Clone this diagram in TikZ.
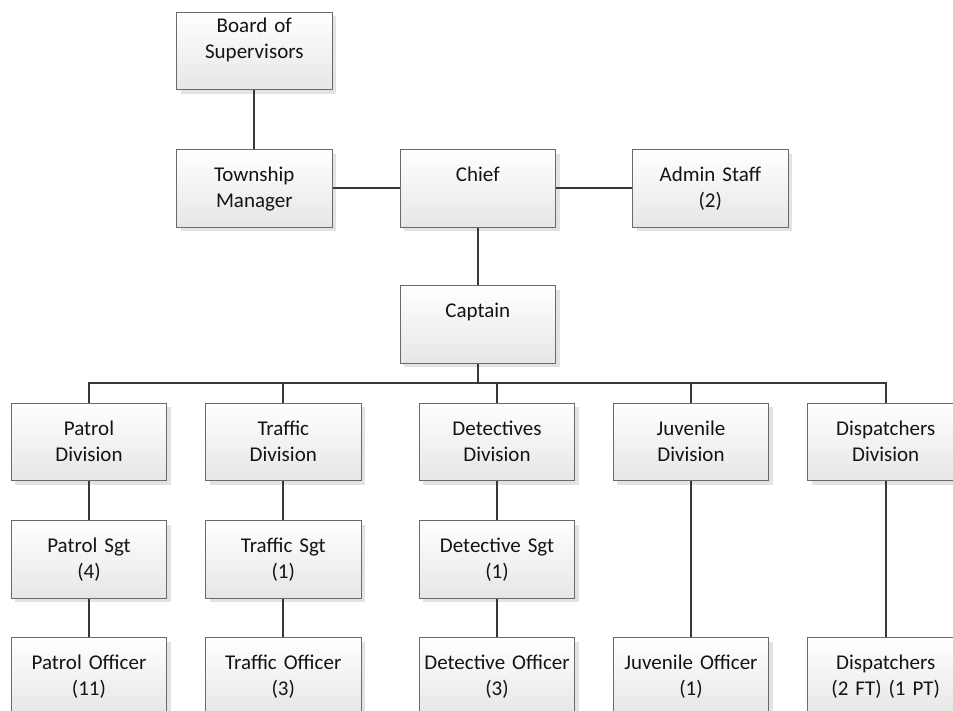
\documentclass[tikz,border=0pt]{standalone}
\usepackage{fontspec}
\setmainfont{Carlito}
\usetikzlibrary{shadows,calc}
\definecolor{ink}{HTML}{141414}
\definecolor{frame}{HTML}{6A6A6A}
\definecolor{wire}{HTML}{383838}
\definecolor{shade}{HTML}{E6E6E6}

\begin{document}
\begin{tikzpicture}[x=1pt, y=-1pt,
    orgbox/.style={draw=frame, line width=1pt, top color=white, bottom color=shade,
      minimum width=155.5pt, minimum height=77.5pt, inner xsep=0pt, inner ysep=0pt,
      text width=155.5pt, align=center, text height=32pt, text depth=45.5pt,
      font=\fontsize{21}{26}\selectfont, text=ink,
      drop shadow={shadow xshift=4pt, shadow yshift=-4pt, fill=black!11, opacity=1}},
    link/.style={draw=wire, line width=2pt}]
  \useasboundingbox (0,0) rectangle (953,711);
  \clip (0,0) rectangle (953,711);

  % top of the chart
  \node[orgbox, text height=20.5pt, text depth=57pt] (board) at (254.3,51) {Board of\\Supervisors};
  \node[orgbox] (manager) at (254.3,188.3) {Township\\Manager};
  \node[orgbox] (chief)   at (477.8,188.3) {Chief};
  \node[orgbox] (admin)   at (710.3,188.3) {Admin Staff\\(2)};
  \node[orgbox] (captain) at (477.8,324.7) {Captain};

  % divisions
  \node[orgbox] (patrol)  at (89,442)    {Patrol\\Division};
  \node[orgbox] (traffic) at (283.3,442) {Traffic\\Division};
  \node[orgbox] (detect)  at (497,442)   {Detectives\\Division};
  \node[orgbox] (juven)   at (691,442)   {Juvenile\\Division};
  \node[orgbox] (dispat)  at (885.7,442) {Dispatchers\\Division};

  % sergeants
  \node[orgbox] (patrolsgt)  at (89,559.5)    {Patrol Sgt\\(4)};
  \node[orgbox] (trafficsgt) at (283.3,559.5) {Traffic Sgt\\(1)};
  \node[orgbox] (detectsgt)  at (497,559.5)   {Detective Sgt\\(1)};

  % officers
  \node[orgbox] (patrolofc)  at (89,676.5)    {Patrol Officer\\(11)};
  \node[orgbox] (trafficofc) at (283.3,676.5) {Traffic Officer\\(3)};
  \node[orgbox] (detectofc)  at (497,676.5)   {Detective Officer\\(3)};
  \node[orgbox] (juvenofc)   at (691,676.5)   {Juvenile Officer\\(1)};
  \node[orgbox] (dispatofc)  at (885.7,676.5) {Dispatchers\\(2 FT) (1 PT)};

  % connectors
  \draw[link] (board) -- (manager);
  \draw[link] (manager) -- (chief);
  \draw[link] (chief) -- (admin);
  \draw[link] (chief) -- (captain);
  \coordinate (bus) at (477.8,383.3);
  \draw[link] (captain) -- (bus);
  \foreach \d in {patrol,traffic,detect,juven,dispat}
    \draw[link] (\d) |- (bus);
  \draw[link] (patrol) -- (patrolsgt) -- (patrolofc);
  \draw[link] (traffic) -- (trafficsgt) -- (trafficofc);
  \draw[link] (detect) -- (detectsgt) -- (detectofc);
  \draw[link] (juven) -- (juvenofc);
  \draw[link] (dispat) -- (dispatofc);
\end{tikzpicture}
\end{document}
